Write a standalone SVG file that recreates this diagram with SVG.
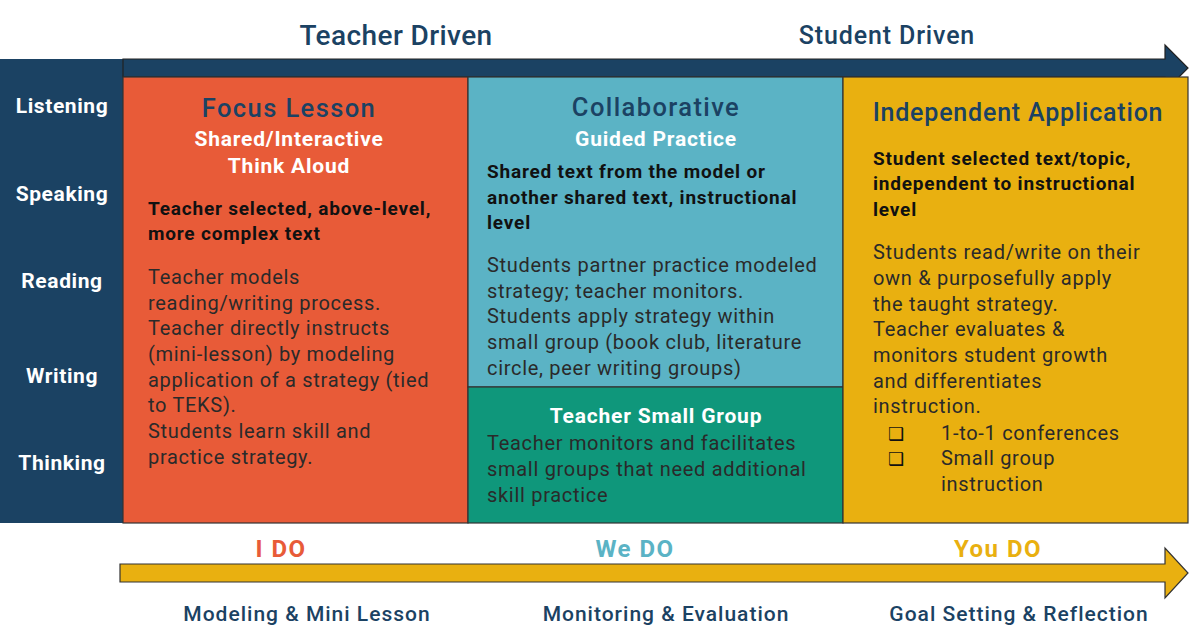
<svg xmlns="http://www.w3.org/2000/svg" width="1200" height="630" viewBox="0 0 1200 630">
<style>
text{font-family:Roboto,"Liberation Sans",sans-serif}
.h{font-size:25.5px;font-weight:500;fill:#1b4263;text-anchor:middle;letter-spacing:1.4px}
.sub{font-size:21px;font-weight:700;fill:#fff;text-anchor:middle;letter-spacing:0.8px}
.bd{font-size:19px;font-weight:700;fill:#111;letter-spacing:0.8px}
.body{font-size:20px;fill:#2a2a2a;letter-spacing:0.7px}
.side{font-size:21px;font-weight:700;fill:#fff;text-anchor:middle;letter-spacing:0.6px}
.top{font-weight:500;fill:#1b4263;text-anchor:middle}
.do{font-size:24px;font-weight:700;text-anchor:middle;letter-spacing:1.5px}
.foot{font-size:21px;font-weight:500;fill:#1b4263;text-anchor:middle;letter-spacing:1px}
.box{stroke:#333;stroke-width:1.2}
.chk{font-family:"DejaVu Sans",sans-serif;font-size:18px;fill:#111}
</style>
<rect width="1200" height="630" fill="#fff"/>
<g id="sidebar">
<rect x="0" y="59" width="123" height="464" fill="#1b4263"/>
<text class="side" x="62" y="113">Listening</text>
<text class="side" x="62" y="201">Speaking</text>
<text class="side" x="62" y="288">Reading</text>
<text class="side" x="62" y="383">Writing</text>
<text class="side" x="62" y="470">Thinking</text>
</g>
<g id="connectors">
<polygon points="123,59 1165,59 1165,45 1188,68 1165,91 1165,77 123,77" fill="#1b4263" stroke="#222" stroke-width="1.2"/>
<polygon points="120,564 1165,564 1165,548 1188,573 1165,598 1165,582 120,582" fill="#e9b010" stroke="#333" stroke-width="1.2"/>
</g>
<g id="top-labels">
<text class="top" x="396" y="45" style="font-size:28px;letter-spacing:0.4px">Teacher Driven</text>
<text class="top" x="887" y="44" style="font-size:25px;letter-spacing:0.85px">Student Driven</text>
</g>
<g id="focus-lesson">
<rect class="box" x="123" y="77" width="345" height="446" fill="#e85b38"/>
<text class="h" x="289" y="117">Focus Lesson</text>
<text class="sub" x="289" y="146">Shared/Interactive</text>
<text class="sub" x="289" y="173">Think Aloud</text>
<text class="bd" x="148" y="215">Teacher selected, above-level,</text>
<text class="bd" x="148" y="240">more complex text</text>
<text class="body" x="148" y="284">Teacher models</text>
<text class="body" x="148" y="310">reading/writing process.</text>
<text class="body" x="148" y="335">Teacher directly instructs</text>
<text class="body" x="148" y="361">(mini-lesson) by modeling</text>
<text class="body" x="148" y="387">application of a strategy (tied</text>
<text class="body" x="148" y="412">to TEKS).</text>
<text class="body" x="148" y="438">Students learn skill and</text>
<text class="body" x="148" y="464">practice strategy.</text>
</g>
<g id="collaborative">
<rect class="box" x="468" y="77" width="375" height="310" fill="#5bb3c5"/>
<text class="h" x="656" y="116">Collaborative</text>
<text class="sub" x="656" y="146">Guided Practice</text>
<text class="bd" x="487" y="178">Shared text from the model or</text>
<text class="bd" x="487" y="204">another shared text, instructional</text>
<text class="bd" x="487" y="229">level</text>
<text class="body" x="487" y="272">Students partner practice modeled</text>
<text class="body" x="487" y="298">strategy; teacher monitors.</text>
<text class="body" x="487" y="323">Students apply strategy within</text>
<text class="body" x="487" y="349">small group (book club, literature</text>
<text class="body" x="487" y="375">circle, peer writing groups)</text>
</g>
<g id="small-group">
<rect class="box" x="468" y="387" width="375" height="136" fill="#0f977b"/>
<text class="sub" x="656" y="423">Teacher Small Group</text>
<text class="body" x="487" y="450">Teacher monitors and facilitates</text>
<text class="body" x="487" y="476">small groups that need additional</text>
<text class="body" x="487" y="502">skill practice</text>
</g>
<g id="independent">
<rect class="box" x="843" y="77" width="345" height="446" fill="#e9b010"/>
<text class="h" x="1018" y="121" style="font-size:25px;letter-spacing:0.8px">Independent Application</text>
<text class="bd" x="873" y="165">Student selected text/topic,</text>
<text class="bd" x="873" y="190">independent to instructional</text>
<text class="bd" x="873" y="216">level</text>
<text class="body" x="873" y="259">Students read/write on their</text>
<text class="body" x="873" y="285">own &amp; purposefully apply</text>
<text class="body" x="873" y="311">the taught strategy.</text>
<text class="body" x="873" y="336">Teacher evaluates &amp;</text>
<text class="body" x="873" y="362">monitors student growth</text>
<text class="body" x="873" y="388">and differentiates</text>
<text class="body" x="873" y="413">instruction.</text>
<text class="chk" x="888" y="440">❑</text>
<text class="chk" x="888" y="465">❑</text>
<text class="body" x="941" y="440">1-to-1 conferences</text>
<text class="body" x="941" y="465">Small group</text>
<text class="body" x="941" y="491">instruction</text>
</g>
<g id="bottom-labels">
<text class="do" x="281" y="557" fill="#e85b38">I DO</text>
<text class="do" x="635" y="557" fill="#5bb3c5">We DO</text>
<text class="do" x="998" y="557" fill="#e9b010">You DO</text>
<text class="foot" x="307" y="621">Modeling &amp; Mini Lesson</text>
<text class="foot" x="666" y="621">Monitoring &amp; Evaluation</text>
<text class="foot" x="1019" y="621">Goal Setting &amp; Reflection</text>
</g>
</svg>
